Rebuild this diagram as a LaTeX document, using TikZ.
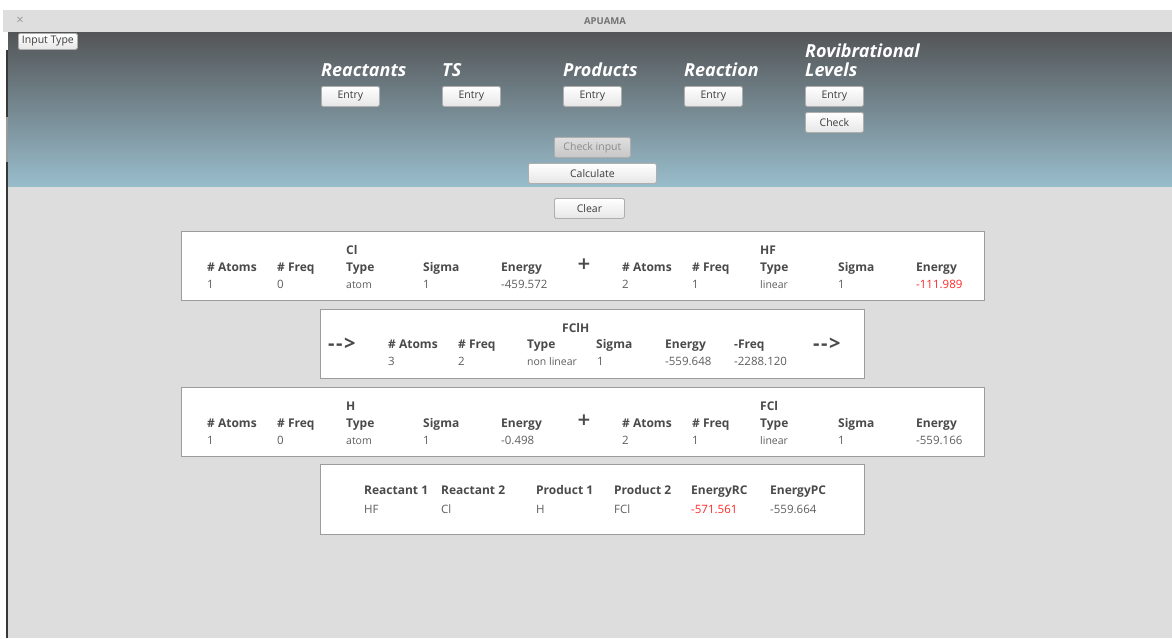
\documentclass[tikz,border=0pt]{standalone}
\usepackage{fontspec}
\setmainfont{Open Sans}
\newfontfamily\plusfont{DejaVu Sans}
\definecolor{lbl}{HTML}{4A4A4A}
\definecolor{valc}{HTML}{5E5E5E}
\definecolor{redv}{HTML}{FF2A2A}
\definecolor{bgray}{HTML}{DDDDDD}
\definecolor{titlebar}{HTML}{DEDEDE}
\definecolor{htop}{HTML}{535557}
\definecolor{hbot}{HTML}{99BDCC}
\definecolor{btnborder}{HTML}{AEAEAE}
\definecolor{btnbot}{HTML}{E6E6E6}
\definecolor{btntext}{HTML}{3C3C3C}
\definecolor{panelborder}{HTML}{9C9C9C}
\tikzset{
  lab/.style={anchor=base west, inner sep=0pt, font=\fontsize{12}{14}\selectfont\bfseries, text=lbl},
  valn/.style={anchor=base west, inner sep=0pt, font=\fontsize{11.5}{14}\selectfont, text=valc},
  tval/.style={anchor=base west, inner sep=0pt, font=\fontsize{10.5}{12}\selectfont, text=valc},
  redval/.style={valn, text=redv},
  head/.style={anchor=base west, inner sep=0pt, font=\fontsize{18}{20}\selectfont\bfseries\itshape, text=white},
  btn/.style={draw=btnborder, line width=0.8pt, rounded corners=1.5pt, top color=white, bottom color=btnbot,
              font=\fontsize{10.5}{12}\selectfont, text=btntext, inner sep=0pt, anchor=north west},
  dbtn/.style={btn, top color=bgray!95!white, bottom color=bgray!90!black, text=black!45},
  panel/.style={draw=panelborder, line width=1pt, fill=white, anchor=north west, inner sep=0pt},
  arr/.style={anchor=west, inner sep=0pt, font=\fontsize{20}{22}\selectfont\bfseries, text=lbl},
  plus/.style={anchor=center, inner sep=0pt, font=\fontsize{17}{18}\selectfont\plusfont\bfseries, text=lbl},
}
\newcommand{\arrtext}{{-}\kern1.5pt{-}\kern1.5pt{>}}
\begin{document}
\begin{tikzpicture}[x=1pt,y=-1pt]
\useasboundingbox (0,0) rectangle (1172,638);
\fill[white] (0,0) rectangle (1172,638);
% title bar
\fill[titlebar] (3,10) rectangle (1172,32);
\node[inner sep=0pt, text=black!40, font=\fontsize{13}{14}\selectfont] (close) at (20,21) {×};
\node[inner sep=0pt, text=black!55, font=\fontsize{9.5}{11}\selectfont\bfseries] (title) at (605,21) {APUAMA};
% header gradient and content area
\shade[top color=htop, bottom color=hbot] (8,32) rectangle (1172,187);
\fill[bgray] (8,187) rectangle (1172,638);
\fill[black!78] (6,50) rectangle (8,638);
\fill[black!40] (6,117) rectangle (8,162);
% header buttons and headings
\node[btn, minimum width=59pt, minimum height=16pt] (inputtype) at (18,33) {Input Type};
\node[head] (hreact) at (321,76) {Reactants};
\node[head] (hts) at (442,76) {TS};
\node[head] (hprod) at (563,76) {Products};
\node[head] (hreac) at (684,76) {Reaction};
\node[head] (hrov1) at (805,57) {Rovibrational};
\node[head] (hrov2) at (805,76) {Levels};
\node[btn, minimum width=58pt, minimum height=20pt] (e1) at (321,86) {Entry};
\node[btn, minimum width=58pt, minimum height=20pt] (e2) at (442,86) {Entry};
\node[btn, minimum width=58pt, minimum height=20pt] (e3) at (563,86) {Entry};
\node[btn, minimum width=58pt, minimum height=20pt] (e4) at (684,86) {Entry};
\node[btn, minimum width=58pt, minimum height=20pt] (e5) at (805,86) {Entry};
\node[btn, minimum width=58pt, minimum height=20pt] (chk) at (805,112) {Check};
\node[dbtn, minimum width=76pt, minimum height=20pt] (chkin) at (554,137) {Check input};
\node[btn, minimum width=128pt, minimum height=20pt] (calc) at (528,163) {Calculate};
\node[btn, minimum width=70pt, minimum height=20pt] (clear) at (554,198) {Clear};
% panels
\node[panel, minimum width=803pt, minimum height=69pt] (p1) at (181,231) {};
\node[panel, minimum width=544pt, minimum height=69pt] (p2) at (320,309) {};
\node[panel, minimum width=803pt, minimum height=69pt] (p3) at (181,387) {};
\node[panel, minimum width=544pt, minimum height=70pt] (p4) at (320,464) {};
% panel 1
\node[lab] (a1l) at (207,271) {\# Atoms};
\node[valn] (a1v) at (207,288) {1};
\node[lab] (f1l) at (277,271) {\# Freq};
\node[valn] (f1v) at (277,288) {0};
\node[lab] (n1) at (346,254) {Cl};
\node[lab] (t1l) at (346,271) {Type};
\node[tval] (t1v) at (346,288) {atom};
\node[lab] (s1l) at (423,271) {Sigma};
\node[valn] (s1v) at (423,288) {1};
\node[lab] (en1l) at (501,271) {Energy};
\node[valn] (en1v) at (501,288) {-459.572};
\node[plus] (plus1) at (584,264) {+};
\node[lab] (a2l) at (622,271) {\# Atoms};
\node[valn] (a2v) at (622,288) {2};
\node[lab] (f2l) at (692,271) {\# Freq};
\node[valn] (f2v) at (692,288) {1};
\node[lab] (n2) at (760,254) {HF};
\node[lab] (t2l) at (760,271) {Type};
\node[tval] (t2v) at (760,288) {linear};
\node[lab] (s2l) at (838,271) {Sigma};
\node[valn] (s2v) at (838,288) {1};
\node[lab] (en2l) at (916,271) {Energy};
\node[redval] (en2v) at (916,288) {-111.989};
% panel 2
\node[arr] (arrl) at (328,344) {\arrtext};
\node[lab] (a3l) at (388,348) {\# Atoms};
\node[valn] (a3v) at (388,365) {3};
\node[lab] (f3l) at (458,348) {\# Freq};
\node[valn] (f3v) at (458,365) {2};
\node[lab] (n3) at (562,332) {FClH};
\node[lab] (t3l) at (527,348) {Type};
\node[tval] (t3v) at (527,365) {non linear};
\node[lab] (s3l) at (596,348) {Sigma};
\node[valn] (s3v) at (597,365) {1};
\node[lab] (en3l) at (665,348) {Energy};
\node[valn] (en3v) at (665,365) {-559.648};
\node[lab] (fr3l) at (734,348) {-Freq};
\node[valn] (fr3v) at (734,365) {-2288.120};
\node[arr] (arrr) at (813,344) {\arrtext};
% panel 3
\node[lab] (a4l) at (207,427) {\# Atoms};
\node[valn] (a4v) at (207,444) {1};
\node[lab] (f4l) at (277,427) {\# Freq};
\node[valn] (f4v) at (277,444) {0};
\node[lab] (n4) at (346,410) {H};
\node[lab] (t4l) at (346,427) {Type};
\node[tval] (t4v) at (346,444) {atom};
\node[lab] (s4l) at (423,427) {Sigma};
\node[valn] (s4v) at (423,444) {1};
\node[lab] (en4l) at (501,427) {Energy};
\node[valn] (en4v) at (501,444) {-0.498};
\node[plus] (plus2) at (584,420) {+};
\node[lab] (a5l) at (622,427) {\# Atoms};
\node[valn] (a5v) at (622,444) {2};
\node[lab] (f5l) at (692,427) {\# Freq};
\node[valn] (f5v) at (692,444) {1};
\node[lab] (n5) at (760,410) {FCl};
\node[lab] (t5l) at (760,427) {Type};
\node[tval] (t5v) at (760,444) {linear};
\node[lab] (s5l) at (838,427) {Sigma};
\node[valn] (s5v) at (838,444) {1};
\node[lab] (en5l) at (916,427) {Energy};
\node[valn] (en5v) at (916,444) {-559.166};
% panel 4
\node[lab] (r1l) at (364,494) {Reactant 1};
\node[valn] (r1v) at (364,513) {HF};
\node[lab] (r2l) at (441,494) {Reactant 2};
\node[valn] (r2v) at (441,513) {Cl};
\node[lab] (pr1l) at (536,494) {Product 1};
\node[valn] (pr1v) at (536,513) {H};
\node[lab] (pr2l) at (614,494) {Product 2};
\node[valn] (pr2v) at (614,513) {FCl};
\node[lab] (erl) at (691,494) {EnergyRC};
\node[redval] (erv) at (691,513) {-571.561};
\node[lab] (epl) at (770,494) {EnergyPC};
\node[valn] (epv) at (770,513) {-559.664};
\end{tikzpicture}
\end{document}
